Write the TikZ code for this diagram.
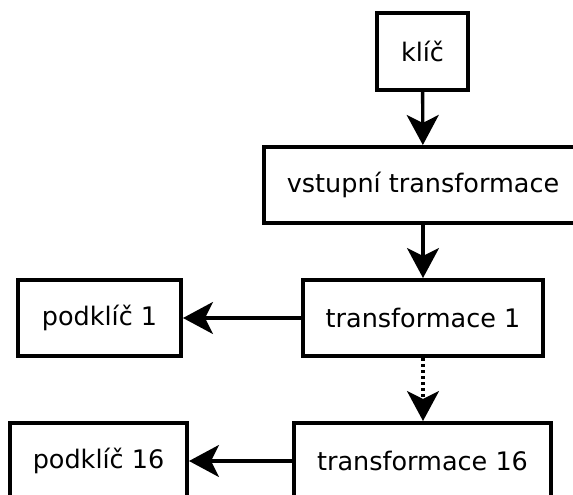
\documentclass[tikz,border=0pt]{standalone}
\usepackage{fontspec}
\setmainfont{DejaVu Sans}
\usetikzlibrary{arrows.meta}
\begin{document}
\begin{tikzpicture}[x=1pt,y=-1pt,
  box/.style={draw=black, line width=4pt, fill=white, inner sep=0pt,
    minimum height=76pt, font=\fontsize{25.5}{30}\selectfont, text=black},
  flow/.style={line width=3.4pt, -{Stealth[length=30pt, width=32pt, inset=8pt]}},
  dotflow/.style={flow, dash pattern=on 3.4pt off 2.6pt}]
  \useasboundingbox (0,0) rectangle (573,495);
  \clip (0,0) rectangle (573,495);

  % key and the input transformation
  \node[box, minimum width=91pt]  (klic)  at (422.5,51.5) {klíč};
  \node[box, minimum width=318pt] (vstup) at (423,185)    {vstupní transformace};

  % first round and its subkey
  \node[box, minimum width=240pt] (t1) at (423,318)  {transformace 1};
  \node[box, minimum width=163pt] (p1) at (99.5,318) {podklíč 1};

  % last round and its subkey
  \node[box, minimum width=257pt] (t16) at (422.5,461) {transformace 16};
  \node[box, minimum width=177pt] (p16) at (98.5,461)  {podklíč 16};

  % connectors
  \draw[flow] (klic) -- (vstup);
  \draw[flow] (vstup.south -| t1) -- (t1);
  \draw[dotflow] (t1.south) -- (t16.north -| t1.south);
  \draw[flow] (t1) -- (p1);
  \draw[flow] (t16) -- (p16);
\end{tikzpicture}
\end{document}
